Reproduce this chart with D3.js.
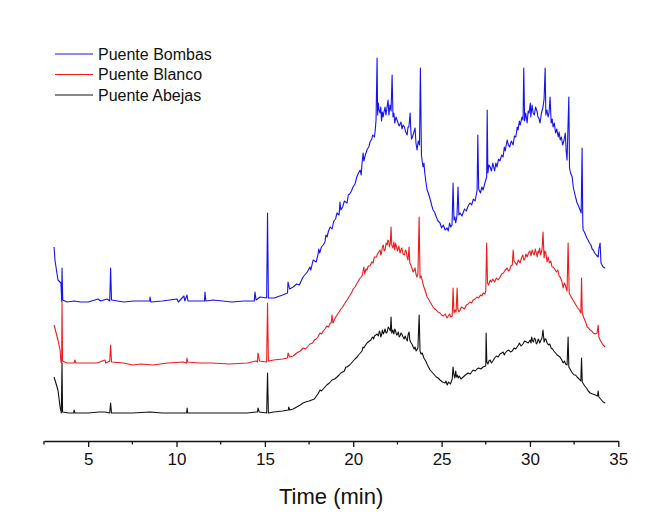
<!DOCTYPE html>
<html>
<head>
<meta charset="utf-8">
<script src="https://cdn.jsdelivr.net/npm/d3@7"></script>
<style>
  html, body { margin: 0; padding: 0; background: #fff; }
  svg { display: block; font-family: "Liberation Sans", Arial, sans-serif; }
</style>
</head>
<body>
<svg id="chart" width="657" height="518"></svg>
<script>
// ---- data (time in min, signal in arbitrary offset units) ----
const seriesNames = ["Puente Bombas", "Puente Blanco", "Puente Abejas"];
const seriesColors = ["#1414ee", "#ee1c1c", "#111111"];
const xTicks = [5, 10, 15, 20, 25, 30, 35];
const xMinorTicks = [2.5, 7.5, 12.5, 17.5, 22.5, 27.5, 32.5];

const bombas = [
  [3.07,166],[3.12,153],[3.29,133],[3.46,130],[3.5,112],[3.52,145],[3.56,113],[3.8,111],[4.2,112],[4.6,111],
  [5.0,111],[5.56,114],[5.7,112],[6.07,114],[6.22,112],[6.27,145],[6.32,113],[7.0,111],[7.6,112],[8.0,112],
  [8.48,112],[8.5,116],[8.55,111],[9.2,112],[10.03,114],[10.1,111],[10.42,117],[10.47,112],[10.59,118],[10.65,112],
  [11.2,112],[11.58,112],[11.61,121],[11.66,112],[12.07,113],[12.6,112],[13.14,111],[13.8,112],[14.4,112],[14.44,121],
  [14.5,113],[14.73,116],[15.1,115],[15.15,200],[15.2,115],[15.52,115],[16.0,118],[16.28,120],[16.31,131],[16.4,124],
  [16.6,126],[16.8,129],[16.95,128],[17.16,136],[17.3,139],[17.4,141],[17.55,146],[17.6,143],[17.73,153],[17.9,151],
  [18.0,158],[18.05,164],[18.1,160],[18.2,166],[18.3,168],[18.4,171],[18.45,178],[18.52,176],[18.6,182],[18.7,186],
  [18.8,184],[18.9,192],[19.0,194],[19.08,200],[19.2,198],[19.25,211],[19.3,203],[19.4,206],[19.5,212],[19.65,210],
  [19.72,218],[19.8,219],[19.9,222],[19.99,226],[20.1,229],[20.2,236],[20.3,240],[20.39,243],[20.45,238],[20.5,250],
  [20.56,260],[20.6,252],[20.7,259],[20.8,264],[20.88,266],[20.95,271],[21.05,274],[21.1,278],[21.2,276],[21.24,282],
  [21.29,293],[21.35,355],[21.38,298],[21.42,310],[21.45,304],[21.52,300],[21.56,306],[21.6,292],[21.65,301],[21.69,296],
  [21.75,302],[21.8,306],[21.85,298],[21.9,304],[21.97,313],[22.02,298],[22.08,308],[22.14,302],[22.2,338],[22.25,296],
  [22.3,300],[22.35,290],[22.42,296],[22.48,293],[22.55,289],[22.6,287],[22.7,291],[22.76,284],[22.82,288],[22.9,286],
  [22.95,282],[23.05,278],[23.1,286],[23.15,286],[23.22,300],[23.26,282],[23.3,274],[23.35,276],[23.42,280],[23.5,285],
  [23.55,270],[23.61,263],[23.68,272],[23.75,268],[23.8,345],[23.86,258],[23.9,252],[23.95,246],[24.0,250],[24.05,240],
  [24.12,230],[24.18,223],[24.25,220],[24.35,214],[24.45,207],[24.52,203],[24.6,201],[24.7,196],[24.8,192],[24.91,190],
  [25.0,185],[25.1,188],[25.2,183],[25.31,185],[25.38,182],[25.45,190],[25.52,186],[25.59,188],[25.65,230],[25.7,193],
  [25.75,196],[25.8,190],[25.87,197],[25.93,226],[25.98,198],[26.05,200],[26.15,197],[26.3,204],[26.4,202],[26.5,207],
  [26.61,210],[26.7,208],[26.8,214],[26.9,212],[27.01,223],[27.05,278],[27.1,224],[27.2,220],[27.28,226],[27.35,223],
  [27.45,230],[27.55,236],[27.58,303],[27.62,240],[27.68,248],[27.75,246],[27.82,242],[27.9,250],[28.0,242],[28.07,250],
  [28.14,246],[28.22,254],[28.3,252],[28.4,258],[28.48,256],[28.55,266],[28.6,262],[28.71,273],[28.78,268],[28.85,266],
  [28.95,272],[29.05,268],[29.12,277],[29.2,276],[29.28,286],[29.33,283],[29.4,292],[29.45,288],[29.55,296],[29.61,293],
  [29.65,345],[29.7,292],[29.76,300],[29.84,290],[29.9,302],[29.95,300],[30.02,310],[30.05,296],[30.12,308],[30.18,300],
  [30.25,298],[30.32,306],[30.41,301],[30.45,296],[30.5,295],[30.57,290],[30.65,300],[30.74,306],[30.8,314],[30.86,345],
  [30.9,298],[30.96,303],[31.03,296],[31.08,300],[31.14,316],[31.2,290],[31.26,294],[31.31,286],[31.38,290],[31.45,280],
  [31.52,284],[31.6,276],[31.65,281],[31.71,273],[31.78,276],[31.85,268],[31.92,272],[32.0,280],[32.05,262],[32.1,253],
  [32.2,316],[32.24,245],[32.3,240],[32.39,236],[32.45,226],[32.5,222],[32.58,216],[32.67,210],[32.75,207],[32.84,203],
  [32.9,200],[32.95,265],[32.99,190],[33.01,183],[33.08,181],[33.15,178],[33.22,175],[33.29,173],[33.37,170],[33.45,168],
  [33.52,164],[33.58,163],[33.66,160],[33.75,158],[33.86,156],[33.9,164],[33.97,170],[34.02,150],[34.08,148],[34.14,146],
  [34.26,145]
];

const blanco = [
  [3.07,88],[3.29,73],[3.41,63],[3.46,51],[3.5,50],[3.52,112],[3.55,52],[3.8,50],[4.2,50],[4.25,53],
  [4.3,50],[5.0,50],[5.5,50],[5.95,53],[6.0,50],[6.22,52],[6.27,68],[6.32,51],[7.0,50],[7.54,48],
  [8.0,49],[8.67,48],[9.5,50],[10.37,51],[10.57,50],[10.59,55],[10.63,51],[11.3,50],[12.0,50],[13.0,49],
  [14.0,50],[14.5,52],[14.58,51],[14.61,60],[14.7,52],[15.1,51],[15.15,110],[15.2,52],[15.5,53],[16.0,54],
  [16.28,55],[16.31,60],[16.4,56],[16.6,57],[16.8,60],[17.0,62],[17.16,65],[17.3,64],[17.4,66],[17.55,69],
  [17.7,70],[17.8,73],[17.9,74],[18.0,76],[18.12,80],[18.2,79],[18.3,82],[18.4,84],[18.5,87],[18.6,86],
  [18.7,90],[18.75,90],[18.8,98],[18.85,90],[18.95,94],[19.08,98],[19.2,101],[19.3,104],[19.4,106],[19.5,109],
  [19.65,113],[19.75,116],[19.9,120],[20.0,124],[20.1,126],[20.22,130],[20.3,132],[20.35,134],[20.45,136],[20.5,137],
  [20.6,146],[20.65,139],[20.72,144],[20.78,143],[20.85,147],[20.95,147],[21.05,151],[21.12,150],[21.2,156],[21.3,156],
  [21.4,160],[21.52,163],[21.56,158],[21.6,160],[21.65,166],[21.7,168],[21.75,162],[21.8,163],[21.86,170],[21.92,168],
  [21.96,173],[22.0,172],[22.05,166],[22.1,170],[22.14,186],[22.18,168],[22.25,165],[22.3,171],[22.35,163],[22.4,170],
  [22.45,166],[22.5,162],[22.58,167],[22.65,160],[22.7,163],[22.75,165],[22.82,159],[22.9,158],[22.95,163],[23.0,162],
  [23.05,156],[23.1,153],[23.16,166],[23.2,150],[23.26,148],[23.32,145],[23.39,141],[23.45,143],[23.5,145],[23.55,139],
  [23.6,136],[23.66,139],[23.73,196],[23.78,135],[23.84,137],[23.9,133],[23.95,129],[24.0,126],[24.1,121],[24.18,116],
  [24.26,114],[24.35,111],[24.45,108],[24.52,106],[24.6,104],[24.7,103],[24.8,101],[24.91,100],[25.0,98],[25.1,97],
  [25.2,99],[25.31,95],[25.38,97],[25.45,99],[25.52,96],[25.6,97],[25.65,125],[25.7,100],[25.76,103],[25.82,101],
  [25.88,125],[25.92,104],[25.98,101],[26.05,103],[26.12,106],[26.22,105],[26.3,104],[26.4,108],[26.5,109],[26.6,111],
  [26.7,110],[26.78,113],[26.9,114],[27.0,116],[27.1,115],[27.2,118],[27.28,117],[27.35,120],[27.45,119],[27.5,122],
  [27.55,170],[27.6,130],[27.66,128],[27.75,133],[27.82,131],[27.9,134],[28.0,131],[28.1,135],[28.2,133],[28.31,136],
  [28.4,139],[28.5,140],[28.6,143],[28.71,145],[28.78,142],[28.85,143],[28.92,147],[29.0,148],[29.05,163],[29.1,152],
  [29.18,150],[29.25,148],[29.34,153],[29.44,150],[29.52,155],[29.6,158],[29.65,153],[29.7,153],[29.77,159],[29.84,156],
  [29.92,160],[30.0,162],[30.06,157],[30.12,163],[30.18,160],[30.24,158],[30.3,164],[30.36,160],[30.41,156],[30.46,162],
  [30.5,160],[30.55,165],[30.6,158],[30.68,163],[30.74,181],[30.8,155],[30.85,162],[30.9,160],[30.97,151],[31.03,156],
  [31.1,150],[31.18,152],[31.25,146],[31.31,146],[31.4,144],[31.5,141],[31.58,143],[31.65,137],[31.71,136],[31.8,132],
  [31.88,125],[31.94,130],[32.0,128],[32.06,124],[32.1,122],[32.16,170],[32.22,120],[32.3,117],[32.4,114],[32.5,111],
  [32.6,108],[32.67,106],[32.75,104],[32.8,103],[32.88,100],[32.92,135],[32.96,100],[33.03,96],[33.1,93],[33.17,90],
  [33.24,86],[33.32,85],[33.4,83],[33.5,82],[33.58,80],[33.7,79],[33.8,80],[33.86,88],[33.9,76],[34.0,72],
  [34.07,70],[34.14,68],[34.26,66]
];

const abejas = [
  [3.07,36],[3.29,23],[3.41,6],[3.48,0],[3.52,50],[3.55,1],[3.9,0],[4.18,0],[4.2,3],[4.25,0],
  [5.0,0],[5.6,1],[5.95,1],[6.22,0],[6.27,10],[6.32,0],[7.5,0],[8.5,1],[9.2,0],[10.0,0],
  [10.57,0],[10.6,5],[10.63,0],[11.5,0],[12.0,0],[13.0,0],[14.0,0],[14.5,1],[14.58,1],[14.61,5],
  [14.68,1],[15.1,0],[15.15,40],[15.2,0],[15.5,1],[16.0,2],[16.33,3],[16.35,6],[16.4,3],[16.6,4],
  [16.8,6],[17.0,8],[17.16,10],[17.3,11],[17.5,12],[17.65,13],[17.8,14],[18.0,19],[18.12,23],[18.2,22],
  [18.3,24],[18.4,26],[18.5,28],[18.65,30],[18.8,33],[18.95,34],[19.08,36],[19.2,38],[19.3,40],[19.4,41],
  [19.5,42],[19.58,46],[19.65,46],[19.72,47],[19.8,48],[19.9,50],[20.0,52],[20.1,54],[20.22,56],[20.3,58],
  [20.4,60],[20.5,62],[20.55,66],[20.6,65],[20.7,68],[20.78,70],[20.85,71],[20.92,72],[21.0,73],[21.05,75],
  [21.1,76],[21.15,74],[21.2,77],[21.28,78],[21.35,79],[21.42,77],[21.48,82],[21.52,80],[21.56,76],[21.6,78],
  [21.65,83],[21.7,79],[21.75,81],[21.8,84],[21.86,80],[21.92,81],[21.98,86],[22.05,84],[22.1,82],[22.14,96],
  [22.18,80],[22.24,83],[22.3,79],[22.35,84],[22.4,82],[22.45,78],[22.48,78],[22.55,81],[22.6,76],[22.65,77],
  [22.7,80],[22.75,79],[22.82,76],[22.88,74],[22.94,77],[23.0,74],[23.06,72],[23.1,78],[23.16,81],[23.2,73],
  [23.28,70],[23.35,68],[23.39,66],[23.45,64],[23.5,66],[23.56,62],[23.6,63],[23.66,65],[23.73,98],[23.78,62],
  [23.84,59],[23.9,60],[24.0,55],[24.1,52],[24.2,48],[24.35,43],[24.45,41],[24.6,38],[24.7,36],[24.8,35],
  [24.91,33],[25.05,31],[25.2,30],[25.25,32],[25.32,28],[25.4,31],[25.5,29],[25.6,34],[25.65,46],[25.7,38],
  [25.75,35],[25.8,42],[25.84,36],[25.88,38],[25.94,35],[26.0,37],[26.1,34],[26.22,36],[26.35,38],[26.5,40],
  [26.62,39],[26.78,43],[26.9,42],[27.0,44],[27.1,45],[27.22,44],[27.35,46],[27.5,47],[27.52,80],[27.56,51],
  [27.62,49],[27.68,52],[27.75,53],[27.82,50],[27.9,52],[28.0,55],[28.1,57],[28.2,56],[28.3,59],[28.4,60],
  [28.48,61],[28.55,58],[28.6,60],[28.7,62],[28.8,63],[28.9,61],[29.0,62],[29.1,65],[29.2,64],[29.27,66],
  [29.35,68],[29.4,70],[29.5,67],[29.6,69],[29.7,72],[29.8,71],[29.9,70],[30.01,73],[30.06,70],[30.1,76],
  [30.15,72],[30.2,71],[30.25,75],[30.3,74],[30.36,69],[30.41,70],[30.46,74],[30.5,73],[30.55,70],[30.6,72],
  [30.68,75],[30.74,83],[30.8,71],[30.85,74],[30.9,74],[30.97,70],[31.05,68],[31.12,69],[31.2,65],[31.28,64],
  [31.35,62],[31.45,60],[31.54,58],[31.62,57],[31.7,56],[31.8,53],[31.88,50],[31.95,52],[32.02,49],[32.1,48],
  [32.16,76],[32.2,46],[32.3,43],[32.4,40],[32.5,38],[32.58,38],[32.67,36],[32.78,34],[32.88,32],[32.92,55],
  [32.96,31],[33.03,29],[33.1,27],[33.2,25],[33.3,22],[33.41,20],[33.55,19],[33.7,18],[33.82,17],[33.86,22],
  [33.9,16],[34.0,14],[34.14,11],[34.26,10]
];

const seriesData = [bombas, blanco, abejas];

// ---- layout ----
const svg = d3.select("#chart");
const x = d3.scaleLinear().domain([2.5, 35]).range([44, 618.3]);
const y = d3.scaleLinear().domain([0, 380]).range([413, 33]);
const axisY = 441;

// traces (draw black first, blue on top)
const line = d3.line().x(d => x(d[0])).y(d => y(d[1]));
[2, 1, 0].forEach(i => {
  svg.append("path")
    .datum(seriesData[i])
    .attr("fill", "none")
    .attr("stroke", seriesColors[i])
    .attr("stroke-width", 1.1)
    .attr("stroke-linejoin", "round")
    .attr("d", line);
});

// x axis
const gAxis = svg.append("g").attr("transform", `translate(0,${axisY})`);
gAxis.call(d3.axisBottom(x).tickValues(xTicks).tickSize(6).tickSizeOuter(0).tickPadding(6)
  .tickFormat(d3.format("d")));
gAxis.selectAll("text").attr("font-size", 17).attr("fill", "#111")
  .attr("font-family", "'Liberation Sans', Arial, sans-serif");
gAxis.selectAll("line").attr("stroke", "#111").attr("stroke-width", 1.3);
gAxis.select(".domain").attr("stroke", "#111").attr("stroke-width", 1.3);

const gMinor = svg.append("g").attr("transform", `translate(0,${axisY})`);
gMinor.selectAll("line").data(xMinorTicks).enter().append("line")
  .attr("x1", d => x(d)).attr("x2", d => x(d))
  .attr("y1", 0).attr("y2", 3.5)
  .attr("stroke", "#111").attr("stroke-width", 1.3);

svg.append("text")
  .attr("x", x(18.75)).attr("y", 504)
  .attr("text-anchor", "middle")
  .attr("font-size", 22)
  .attr("fill", "#111")
  .text("Time (min)");

// legend
const legend = svg.append("g");
seriesNames.forEach((name, i) => {
  const ly = 54 + i * 20.5;
  legend.append("line")
    .attr("x1", 55).attr("x2", 93).attr("y1", ly).attr("y2", ly)
    .attr("stroke", seriesColors[i]).attr("stroke-width", 1);
  legend.append("text")
    .attr("x", 98).attr("y", ly + 5.5)
    .attr("font-size", 16)
    .attr("fill", "#111")
    .text(name);
});
</script>
</body>
</html>
